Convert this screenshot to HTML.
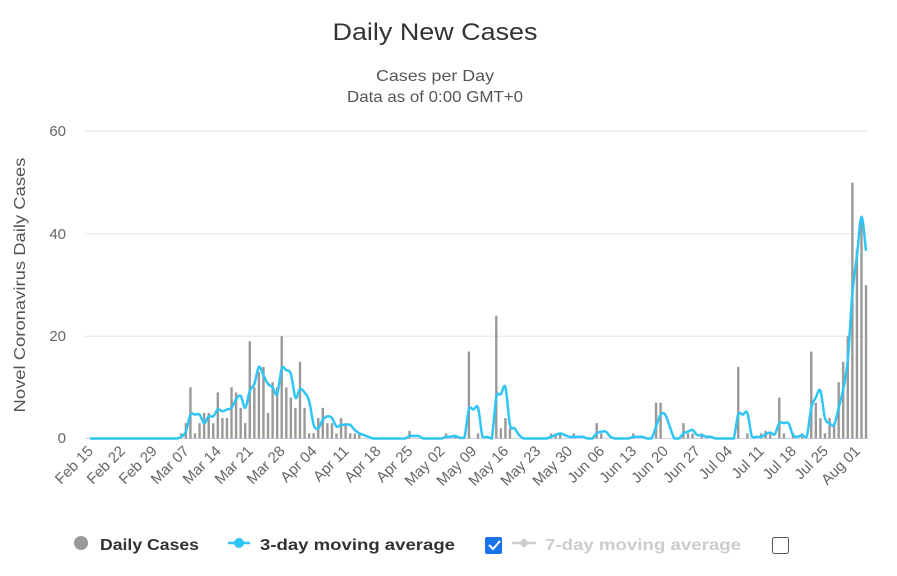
<!DOCTYPE html>
<html><head><meta charset="utf-8"><style>
body{margin:0;background:#fff;font-family:"Liberation Sans",sans-serif;}
svg text{font-family:"Liberation Sans",sans-serif;}
</style></head><body>
<svg id="c" width="897" height="571" xmlns="http://www.w3.org/2000/svg">
<text x="435" y="40" text-anchor="middle" font-size="24" fill="#333" textLength="205" lengthAdjust="spacingAndGlyphs">Daily New Cases</text>
<text x="435" y="81" text-anchor="middle" font-size="16" fill="#555" textLength="118" lengthAdjust="spacingAndGlyphs">Cases per Day</text>
<text x="435" y="102" text-anchor="middle" font-size="16" fill="#555" textLength="176" lengthAdjust="spacingAndGlyphs">Data as of 0:00 GMT+0</text>
<g stroke="#e6e6e6" stroke-width="1">
<line x1="85" x2="868" y1="131" y2="131"/><line x1="85" x2="868" y1="233.7" y2="233.7"/><line x1="85" x2="868" y1="336.3" y2="336.3"/>
</g>
<line x1="85" x2="868" y1="438.5" y2="438.5" stroke="#ccd6eb"/>
<g font-size="15" fill="#666" text-anchor="end">
<text x="66" y="136">60</text><text x="66" y="239">40</text><text x="66" y="341">20</text><text x="66" y="443">0</text>
</g>
<text transform="translate(25,285) rotate(-90)" text-anchor="middle" font-size="16" fill="#555" textLength="255" lengthAdjust="spacingAndGlyphs">Novel Coronavirus Daily Cases</text>
<g id="bars" fill="#999"></g>
<path id="line" fill="none" stroke="#2fc5f4" stroke-width="2.5"/>
<g id="xl" font-size="15" fill="#666"></g>
<circle cx="81" cy="543" r="7" fill="#999"/>
<text x="100" y="550" font-size="16" font-weight="bold" fill="#333" textLength="99" lengthAdjust="spacingAndGlyphs">Daily Cases</text>
<line x1="228" x2="250" y1="543" y2="543" stroke="#2fc5f4" stroke-width="2.5"/><circle cx="239" cy="543" r="5" fill="#2fc5f4"/>
<text x="260" y="550" font-size="16" font-weight="bold" fill="#333" textLength="195" lengthAdjust="spacingAndGlyphs">3-day moving average</text>
<rect x="485" y="537" width="17" height="17" rx="2" fill="#1a73e8"/>
<path d="M489 545 l4 4 l7 -8" stroke="#fff" stroke-width="2" fill="none"/>
<line x1="512" x2="536" y1="543" y2="543" stroke="#ccc" stroke-width="2.5"/><path d="M524 538 l5 5 l-5 5 l-5 -5z" fill="#ccc"/>
<text x="545" y="550" font-size="16" font-weight="bold" fill="#ccc" textLength="196" lengthAdjust="spacingAndGlyphs">7-day moving average</text>
<rect x="772.5" y="537.5" width="16" height="16" rx="2" fill="#fff" stroke="#555"/>
</svg>
<script>
var d=new Array(171).fill(0);
var s={20:1,21:3,22:10,23:1,24:3,25:5,26:5,27:3,28:9,29:4,30:4,31:10,32:9,33:6,34:3,35:19,36:10,37:13,38:14,39:5,40:11,41:10,42:20,43:10,44:8,45:6,46:15,47:6,48:1,49:1,50:4,51:6,52:3,53:3,54:1,55:4,56:3,57:1,58:1,59:1,
70:1.5,78:1,80:0.5,83:17,85:1,89:24,90:2,91:4,92:2,101:1,102:1,103:1,106:1,111:3,112:1,119:1,124:7,125:7,130:3,131:1,132:1,134:1,142:14,144:1,147:1,148:1.5,149:1,151:8,152:1,154:1,156:1,
158:17,159:7,160:4,161:1,162:4,163:3,164:11,165:15,166:20,167:50,168:37,169:43,170:30};
for(var k in s)d[k]=s[k];
var x0=90,dx=4.565,y0=438.5,sc=102.3/20,ns="http://www.w3.org/2000/svg";
var g=document.getElementById('bars');
d.forEach(function(v,i){if(v>0){var r=document.createElementNS(ns,'rect');r.setAttribute('x',x0+i*dx-1.2);r.setAttribute('width',2.4);r.setAttribute('y',y0-v*sc);r.setAttribute('height',v*sc);g.appendChild(r);}});
var p=[];for(var i=0;i<171;i++){var a=(d[i]+(d[i-1]||0)+(d[i-2]||0))/3;p.push([x0+i*dx,y0-a*sc]);}
var path='M'+p[0][0]+' '+p[0][1];
for(var i=0;i<p.length-1;i++){var p0=p[i-1]||p[i],p1=p[i],p2=p[i+1],p3=p[i+2]||p2;
path+=' C'+(p1[0]+(p2[0]-p0[0])/6)+' '+Math.min(y0,p1[1]+(p2[1]-p0[1])/6)+' '+(p2[0]-(p3[0]-p1[0])/6)+' '+Math.min(y0,p2[1]-(p3[1]-p1[1])/6)+' '+p2[0]+' '+p2[1];}
document.getElementById('line').setAttribute('d',path);
var L=['Feb 15','Feb 22','Feb 29','Mar 07','Mar 14','Mar 21','Mar 28','Apr 04','Apr 11','Apr 18','Apr 25','May 02','May 09','May 16','May 23','May 30','Jun 06','Jun 13','Jun 20','Jun 27','Jul 04','Jul 11','Jul 18','Jul 25','Aug 01'];
var xl=document.getElementById('xl');
L.forEach(function(t,i){var x=x0+i*7*dx+4,y=452;var e=document.createElementNS(ns,'text');e.setAttribute('text-anchor','end');e.setAttribute('transform','translate('+x+','+y+') rotate(-45)');e.textContent=t;xl.appendChild(e);});
</script>
</body></html>
